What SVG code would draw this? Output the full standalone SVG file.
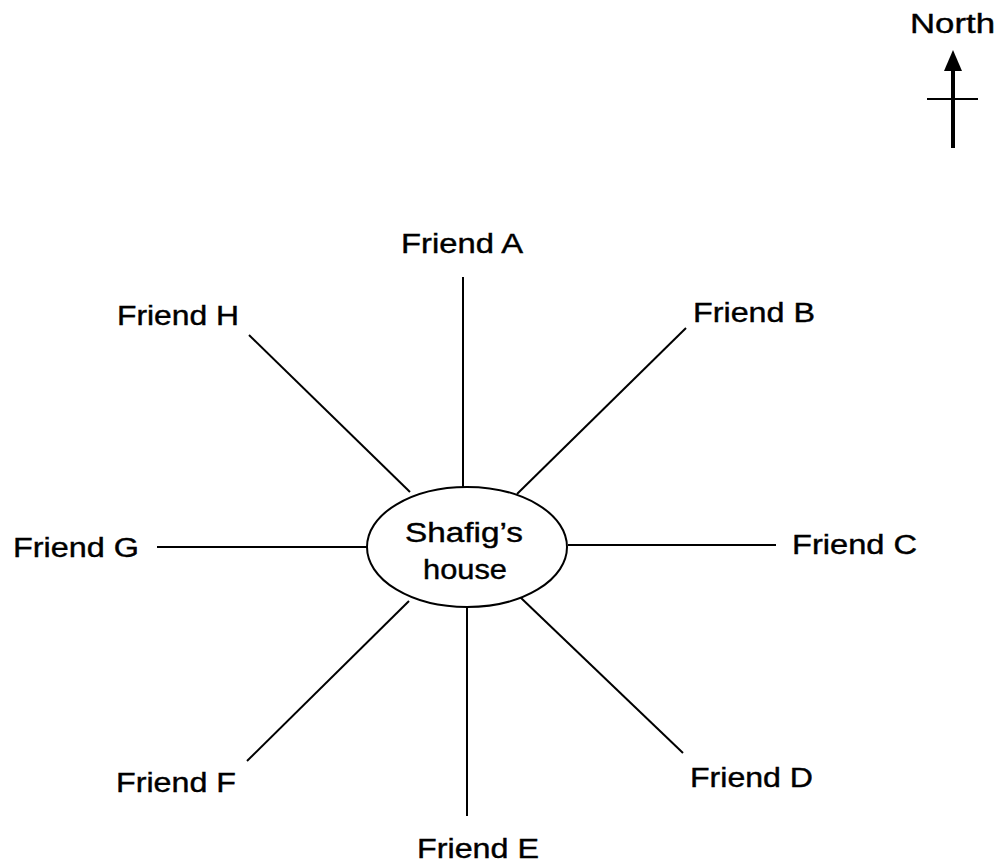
<svg xmlns="http://www.w3.org/2000/svg" width="1001" height="865" viewBox="0 0 1001 865">
<style>
.lbl{font-family:"Liberation Sans",Arial,sans-serif;font-size:27px;fill:#000;stroke:#000;stroke-width:0.4}
.ln{stroke:#000;stroke-width:2;fill:none}
</style>
<rect width="1001" height="865" fill="#fff"/>
<g id="connectors">
<line class="ln" x1="463" y1="277" x2="463" y2="487"/>
<line class="ln" x1="686" y1="328" x2="517" y2="494"/>
<line class="ln" x1="568" y1="545" x2="776" y2="545"/>
<line class="ln" x1="520" y1="597" x2="683" y2="753"/>
<line class="ln" x1="467" y1="607" x2="467" y2="816"/>
<line class="ln" x1="409" y1="601" x2="247" y2="761"/>
<line class="ln" x1="157" y1="547" x2="367" y2="547"/>
<line class="ln" x1="249" y1="335" x2="410" y2="492"/>
</g>
<g id="house">
<ellipse cx="467" cy="547" rx="100" ry="60" fill="#fff" stroke="#000" stroke-width="2"/>
<text class="lbl" x="405" y="542" textLength="118" lengthAdjust="spacingAndGlyphs">Shafig’s</text>
<text class="lbl" x="423" y="579" textLength="84" lengthAdjust="spacingAndGlyphs">house</text>
</g>
<g id="friendA"><text class="lbl" x="401" y="253" textLength="122" lengthAdjust="spacingAndGlyphs">Friend A</text></g>
<g id="friendB"><text class="lbl" x="693" y="322" textLength="122" lengthAdjust="spacingAndGlyphs">Friend B</text></g>
<g id="friendC"><text class="lbl" x="792" y="554" textLength="125" lengthAdjust="spacingAndGlyphs">Friend C</text></g>
<g id="friendD"><text class="lbl" x="690" y="787" textLength="123" lengthAdjust="spacingAndGlyphs">Friend D</text></g>
<g id="friendE"><text class="lbl" x="417" y="858" textLength="122" lengthAdjust="spacingAndGlyphs">Friend E</text></g>
<g id="friendF"><text class="lbl" x="116" y="792" textLength="120" lengthAdjust="spacingAndGlyphs">Friend F</text></g>
<g id="friendG"><text class="lbl" x="13" y="557" textLength="126" lengthAdjust="spacingAndGlyphs">Friend G</text></g>
<g id="friendH"><text class="lbl" x="117" y="325" textLength="122" lengthAdjust="spacingAndGlyphs">Friend H</text></g>
<g id="north">
<text class="lbl" x="910" y="33" textLength="85" lengthAdjust="spacingAndGlyphs">North</text>
<line x1="953" y1="66" x2="953" y2="148" stroke="#000" stroke-width="4"/>
<polygon points="953,50 944,71 962,71" fill="#000"/>
<line x1="927" y1="99" x2="978" y2="99" stroke="#000" stroke-width="2"/>
</g>
</svg>
